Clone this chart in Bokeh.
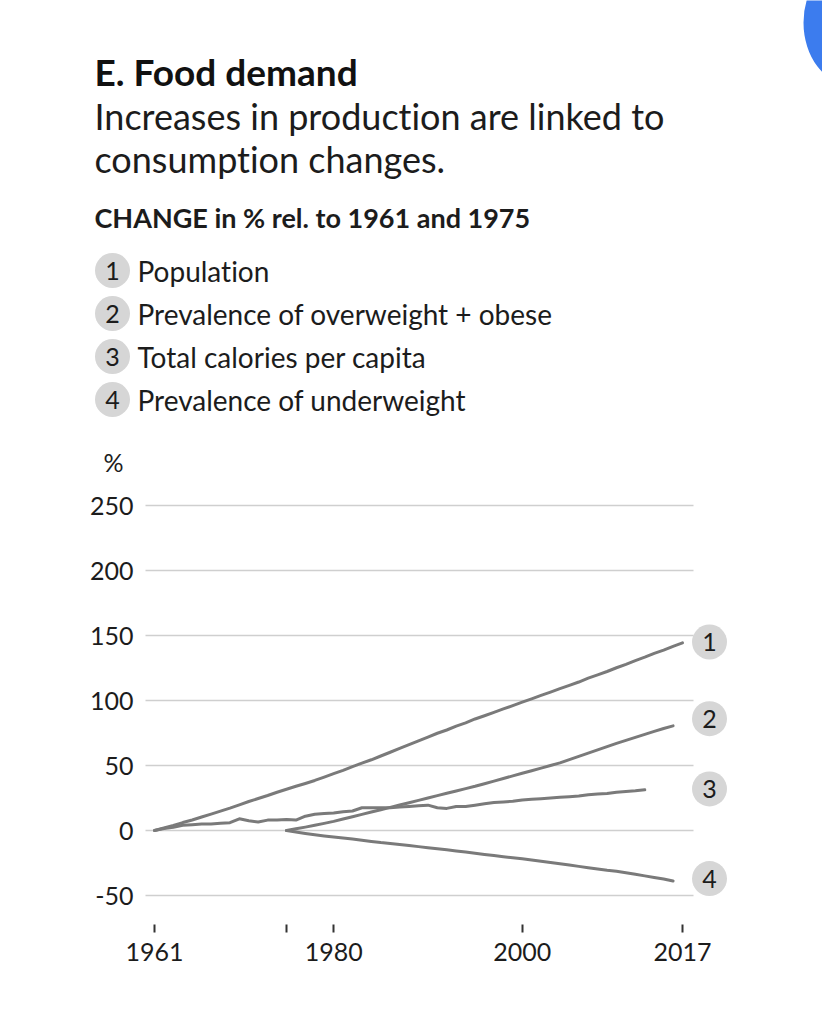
from bokeh.plotting import figure
from bokeh.models import FixedTicker, InlineStyleSheet
from bokeh.core.properties import value
from bokeh.embed import file_html
from bokeh.resources import INLINE

# ---------------- data ----------------
years_pop = list(range(1961, 2018))
population = [0, 1.9, 3.9, 6.1, 8.1, 10.4, 12.6, 14.9, 17.2, 19.7,
              22.3, 24.6, 26.9, 29.4, 31.7, 34.0, 36.2, 38.5, 41.1, 43.7,
              46.3, 49.2, 51.8, 54.4, 57.3, 60.2, 63.1, 66.0, 68.9, 71.8,
              74.8, 77.3, 80.3, 82.8, 85.8, 88.3, 90.9, 93.5, 96.1, 98.7,
              101.3, 103.9, 106.5, 109.1, 111.7, 114.2, 117.2, 119.7, 122.3, 125.2,
              127.8, 130.7, 133.3, 136.2, 138.8, 141.7, 144.3]

years_cal = list(range(1961, 2014))
calories = [0, 1.5, 2.5, 4.0, 4.5, 5.0, 5.0, 5.5, 6.0, 9.0,
            7.5, 6.5, 8.0, 8.0, 8.5, 8.0, 11.0, 12.5, 13.0, 13.5,
            14.5, 15.0, 17.5, 17.5, 17.5, 17.5, 18.0, 18.5, 19.0, 19.5,
            17.5, 17.0, 18.5, 18.5, 19.5, 20.5, 21.5, 22.0, 22.5, 23.5,
            24.0, 24.5, 25.0, 25.5, 26.0, 26.5, 27.5, 28.0, 28.5, 29.5,
            30.0, 30.5, 31.3]

years_ow = list(range(1975, 2017))
overweight = [0, 1.3, 2.6, 4.0, 5.5, 7.0, 8.8, 10.6, 12.4, 14.2,
              16.0, 17.8, 19.6, 21.4, 23.2, 25.0, 26.8, 28.6, 30.4, 32.2,
              34.0, 36.0, 38.0, 40.0, 42.0, 44.0, 46.0, 48.0, 50.0, 52.0,
              54.5, 57.0, 59.5, 62.0, 64.5, 67.0, 69.3, 71.6, 73.9, 76.2,
              78.5, 80.5]

years_uw = list(range(1975, 2017))
underweight = [0, -1.2, -2.3, -3.3, -4.2, -5.0, -5.8, -6.6, -7.5, -8.4,
               -9.3, -10.0, -10.8, -11.6, -12.4, -13.2, -14.0, -14.8, -15.7, -16.6,
               -17.5, -18.4, -19.3, -20.2, -21.0, -21.8, -22.7, -23.6, -24.6, -25.6,
               -26.6, -27.6, -28.6, -29.6, -30.6, -31.4, -32.5, -33.7, -34.9, -36.1,
               -37.3, -38.8]

series_numbers = ["1", "2", "3", "4"]
series_names = ["Population", "Prevalence of overweight + obese",
                "Total calories per capita", "Prevalence of underweight"]
y_ticks = [-50, 0, 50, 100, 150, 200, 250]
x_ticks = [1961, 1975, 1980, 2000, 2017]
x_tick_labels = {1961: "1961", 1975: "", 1980: "1980", 2000: "2000", 2017: "2017"}

title = "E. Food demand"
subtitle = ["Increases in production are linked to", "consumption changes."]
unit_heading = "CHANGE in % rel. to 1961 and 1975"
unit = "%"

# ---------------- layout ----------------
W, H = 822, 1020
OFF = 0
FRAME_BOTTOM = 924           # pixel row of the frame bottom (top of the x ticks)
BOTTOM = H - FRAME_BOTTOM
FRAME_H = H - BOTTOM
ppy = (682 - 154) / 56.0     # pixels per year
ppu = 1.3                    # pixels per percentage point
x_start = 1961 - (154 - OFF) / ppy
x_end = x_start + W / ppy
y_end = (830 - OFF) / ppu
y_start = y_end - FRAME_H / ppu


def X(px):
    return x_start + (px - OFF) / ppy


def Y(py):
    return y_end - (py - OFF) / ppu


FONT = "Lato"
TXT = "#1c1c1c"
LINE = "#7a7a7a"
BADGE = "#d6d6d6"

p = figure(width=W, height=H, output_backend="svg", toolbar_location=None,
           x_range=(x_start, x_end), y_range=(y_start, y_end),
           min_border_left=0, min_border_right=0, min_border_top=0,
           min_border_bottom=BOTTOM, y_axis_location=None)
p.stylesheets = [InlineStyleSheet(css=":host { font-variant-ligatures: none; } "
                                      "text { font-variant-ligatures: none !important; "
                                      "font-feature-settings: 'liga' 0 !important; }")]
p.outline_line_color = None
p.background_fill_color = "white"
p.border_fill_color = "white"
p.xgrid.visible = False
p.ygrid.visible = False

ax = p.xaxis[0]
ax.ticker = FixedTicker(ticks=x_ticks)
ax.major_label_overrides = x_tick_labels
ax.axis_line_color = None
ax.major_tick_in = 0
ax.major_tick_out = 8
ax.minor_tick_out = 0
ax.minor_tick_in = 0
ax.major_tick_line_color = "#333333"
ax.major_tick_line_width = 2
ax.major_label_text_font = FONT
ax.major_label_text_font_size = "25px"
ax.major_label_text_color = TXT
ax.major_label_standoff = 10

# horizontal grid lines
gx0, gx1 = X(145), X(693)
p.segment(x0=[gx0] * len(y_ticks), x1=[gx1] * len(y_ticks), y0=y_ticks, y1=y_ticks,
          line_color="#cfcfcf", line_width=1.5)

# y tick labels
p.text(x=[X(133)] * len(y_ticks), y=y_ticks, text=[str(t) for t in y_ticks],
       text_font=value(FONT), text_font_size="25px", text_color=TXT,
       text_align="right", text_baseline="middle")
p.text(x=[X(113)], y=[Y(461)], text=[unit], text_font=value(FONT),
       text_font_size="25px", text_color=TXT, text_align="center", text_baseline="middle")

# data lines
for xs, ys in [(years_pop, population), (years_ow, overweight),
               (years_cal, calories), (years_uw, underweight)]:
    p.line(xs, ys, line_color=LINE, line_width=3, line_join="round", line_cap="round")

# end badges
end_label_y = [145, 86, 32, -37]
p.scatter(x=[X(709)] * 4, y=end_label_y, size=35, fill_color=BADGE, line_color=None)
p.text(x=[X(709)] * 4, y=end_label_y, text=series_numbers, text_font=value(FONT),
       text_font_size="25px", text_color=TXT, text_align="center", text_baseline="middle")

# headings
p.text(x=[X(94)], y=[Y(71)], text=[title], text_font=value(FONT), text_font_style="bold",
       text_font_size="37px", text_color="#111111", text_baseline="middle")
p.text(x=[X(94), X(94)], y=[Y(115), Y(158)], text=subtitle, text_font=value(FONT),
       text_font_size="36px", text_color=TXT, text_baseline="middle")
p.text(x=[X(94)], y=[Y(217)], text=[unit_heading], text_font=value(FONT),
       text_font_style="bold", text_font_size="27px", text_color=TXT, text_baseline="middle")

# legend
leg_y = [Y(270 + 43 * i) for i in range(4)]
p.scatter(x=[X(112)] * 4, y=leg_y, size=35, fill_color=BADGE, line_color=None)
p.text(x=[X(112)] * 4, y=leg_y, text=series_numbers, text_font=value(FONT),
       text_font_size="25px", text_color=TXT, text_align="center", text_baseline="middle")
p.text(x=[X(137)] * 4, y=leg_y, text=series_names,
       text_font=value(FONT), text_font_size="28px", text_color=TXT, text_baseline="middle")

# blue blob in the top-right corner of the screenshot
p.ellipse(x=[X(850)], y=[Y(22)], width=94 / ppy, height=124 / ppu,
          fill_color="#3c7cee", line_color=None)

open("out.html", "w").write(file_html(p, INLINE))
